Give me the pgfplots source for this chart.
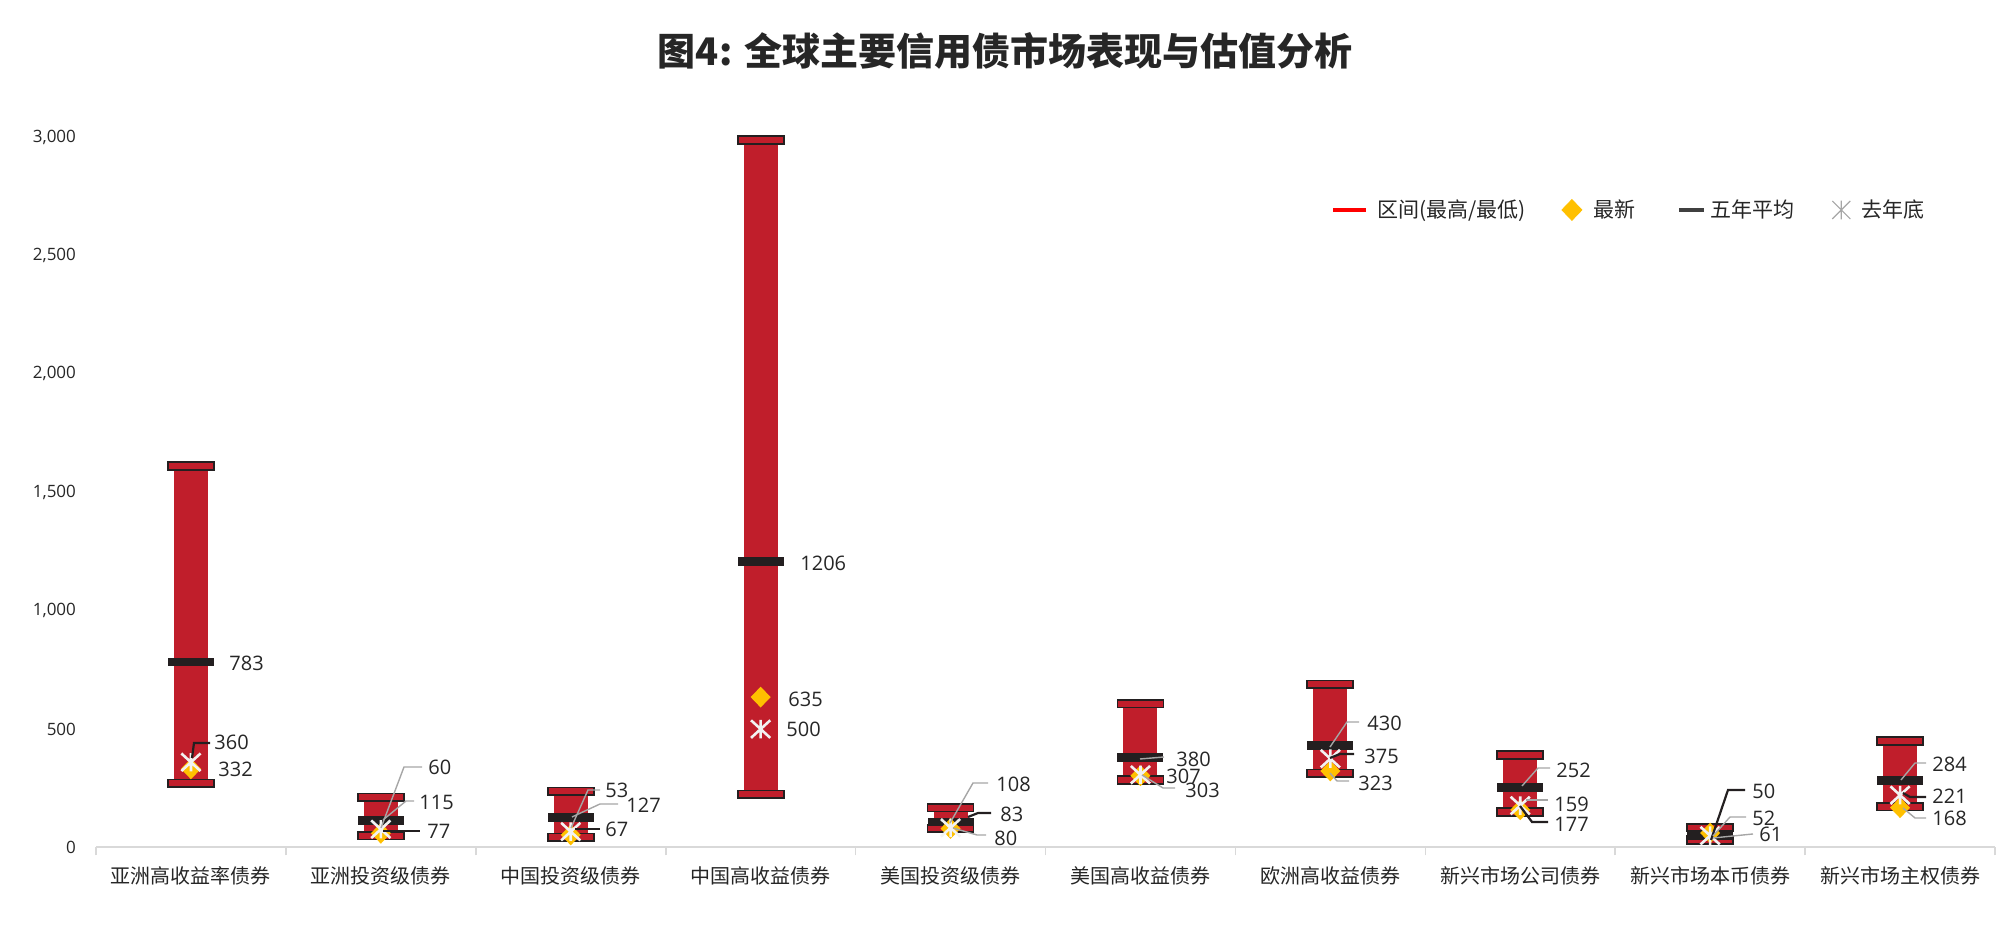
\documentclass[border=0pt]{standalone}
\usepackage{pgfplots}
\pgfplotsset{compat=1.18}
\usepackage{pgfplotstable}
\usepackage{fontspec}
\setmainfont{Open Sans}
\newfontfamily\cjk{Noto Sans CJK SC}
\definecolor{barred}{HTML}{C01E2B}
\definecolor{capline}{HTML}{231F20}
\definecolor{avgc}{HTML}{231F20}
\definecolor{gold}{HTML}{FFC000}
\definecolor{legred}{HTML}{FF0000}
\definecolor{avgleg}{HTML}{404040}
\definecolor{astgray}{HTML}{A6A6A6}
\definecolor{leadgray}{HTML}{A6A6A6}
\definecolor{axisgray}{HTML}{D9D9D9}
\definecolor{textc}{HTML}{262626}

\pgfdeclareplotmark{capbar}{%
  \pgfpathrectangle{\pgfqpoint{-11.5pt}{-1.9pt}}{\pgfqpoint{23pt}{3.8pt}}%
  \pgfusepathqfillstroke}
\pgfdeclareplotmark{avgbar}{%
  \pgfpathrectangle{\pgfqpoint{-11.5pt}{-2.2pt}}{\pgfqpoint{23pt}{4.4pt}}%
  \pgfusepathqfill}
\pgfdeclareplotmark{ldiamond}{%
  \pgfpathmoveto{\pgfqpoint{0pt}{5.2pt}}%
  \pgfpathlineto{\pgfqpoint{5pt}{0pt}}%
  \pgfpathlineto{\pgfqpoint{0pt}{-5.2pt}}%
  \pgfpathlineto{\pgfqpoint{-5pt}{0pt}}%
  \pgfpathclose\pgfusepathqfill}
\pgfdeclareplotmark{xast}{%
  \pgfpathmoveto{\pgfqpoint{-4.8pt}{-4.4pt}}\pgfpathlineto{\pgfqpoint{4.8pt}{4.4pt}}%
  \pgfpathmoveto{\pgfqpoint{-4.8pt}{4.4pt}}\pgfpathlineto{\pgfqpoint{4.8pt}{-4.4pt}}%
  \pgfpathmoveto{\pgfqpoint{0pt}{-4.6pt}}\pgfpathlineto{\pgfqpoint{0pt}{4.6pt}}%
  \pgfusepathqstroke}

\pgfplotstableread{
x low high avg latest last
0 271 1611 783 332 360
1 50 212 115 60 77
2 43 237 127 53 67
3 225 2987 1206 635 500
4 80 168 108 80 83
5 285 607 380 303 307
6 313 689 430 323 375
7 150 390 252 159 177
8 32 84 52 61 50
9 172 450 284 168 221
}\data

\begin{document}
\begin{tikzpicture}
\begin{axis}[
  at={(48pt,41.25pt)}, anchor=south west,
  scale only axis, width=949.5pt, height=355.25pt,
  xmin=-0.5, xmax=9.5, ymin=0, ymax=3000,
  clip=false,
  axis x line=bottom, axis y line=left, axis line style={-},
  x axis line style={draw=axisgray, line width=1pt},
  y axis line style={draw=none},
  xtick={0,...,9},
  xticklabels={亚洲高收益率债券,亚洲投资级债券,中国投资级债券,中国高收益债券,美国投资级债券,美国高收益债券,欧洲高收益债券,新兴市场公司债券,新兴市场本币债券,新兴市场主权债券},
  xticklabel style={font=\cjk\fontsize{10}{12}\selectfont, text=textc, yshift=-6pt},
  minor xtick={-0.5,0.5,...,9.5},
  major tick length=0pt, minor tick length=4pt, tick align=outside,
  major tick style={draw=none},
  minor x tick style={draw=axisgray, line width=0.8pt},
  ytick={0,500,...,3000},
  scaled y ticks=false,
  yticklabel style={font=\fontsize{8.5}{10}\selectfont, text=textc, xshift=-6.5pt},
  /pgf/number format/.cd, 1000 sep={,}, assume math mode=true,
  /pgfplots/.cd,
  legend style={at={(rel axis cs:0.6503,0.8973)}, anchor=west, draw=none, fill=none,
    inner sep=0pt, outer sep=0pt,
    nodes={inner sep=0pt, outer sep=0pt, font=\cjk\fontsize{10.5}{12}\selectfont, text=textc},
    column sep=0pt},
  legend columns=4,
]
% range bars
\addplot[forget plot, draw=none, mark=none,
  error bars/.cd, y dir=plus, y explicit, error mark=none,
  error bar style={draw=barred, line width=17pt}]
  table[x=x, y=low, y error expr=\thisrow{high}-\thisrow{low}] {\data};
% caps
\addplot[forget plot, only marks, mark=capbar, mark options={fill=barred, draw=capline, line width=0.9pt}]
  table[x=x, y=high] {\data};
\addplot[forget plot, only marks, mark=capbar, mark options={fill=barred, draw=capline, line width=0.9pt}]
  table[x=x, y=low] {\data};
% five-year average
\addplot[forget plot, only marks, mark=avgbar, mark options={fill=avgc}]
  table[x=x, y=avg] {\data};
% latest
\addplot[forget plot, only marks, mark=ldiamond, mark options={fill=gold}]
  table[x=x, y=latest] {\data};
% last year end
\addplot[forget plot, only marks, mark=xast, mark options={draw=white!95!black, line width=1.3pt}]
  table[x=x, y=last] {\data};

\addlegendimage{legend image code/.code={\draw[legred, line width=2.2pt] (0pt,0pt) -- (16.5pt,0pt); \path (22pt,0pt);}}
\addlegendentry{\makebox[92pt][l]{区间(最高/最低)}}
\addlegendimage{legend image code/.code={\fill[gold] (5pt,5.2pt) -- (10pt,0pt) -- (5pt,-5.2pt) -- (0pt,0pt) -- cycle; \path (15.5pt,0pt);}}
\addlegendentry{\makebox[42pt][l]{最新}}
\addlegendimage{legend image code/.code={\draw[avgleg, line width=2pt] (0pt,0pt) -- (12.5pt,0pt); \path (15.5pt,0pt);}}
\addlegendentry{\makebox[60.5pt][l]{五年平均}}
\addlegendimage{legend image code/.code={\draw[astgray, line width=0.6pt] (0.5pt,-4.5pt) -- (9.5pt,4.5pt) (0.5pt,4.5pt) -- (9.5pt,-4.5pt) (5pt,-4.7pt) -- (5pt,4.7pt); \path (15pt,0pt);}}
\addlegendentry{去年底}
\end{axis}

% title
\node[font=\cjk\bfseries\fontsize{19}{22}\selectfont, text=textc] at (502.5pt,439.5pt) {图4: 全球主要信用债市场表现与估值分析};

% data labels and leader lines (px coordinates of the 2010x930 frame)
\begin{scope}[x=0.5pt, y=-0.5pt, yshift=465pt,
  lab/.style={anchor=west, inner sep=0pt, font=\fontsize{10}{12}\selectfont, text=textc},
  lg/.style={draw=leadgray, line width=0.7pt},
  lb/.style={draw=avgc, line width=1.1pt}]
% cat 1
\node[lab] at (229,663) {783};
\node[lab] at (214,742) {360};
\node[lab] at (218,769) {332};
\draw[lb] (192,758) -- (194,743) -- (210,743);
% cat 2
\node[lab] at (428,767) {60};
\node[lab] at (419,802) {115};
\node[lab] at (427,831) {77};
\draw[lg] (381,828) -- (404,767) -- (422,767);
\draw[lg] (383,820) -- (406,801) -- (414,801);
\draw[lb] (383,831) -- (420,831);
% cat 3
\node[lab] at (605,790) {53};
\node[lab] at (626,805) {127};
\node[lab] at (605,829) {67};
\draw[lg] (571,828) -- (588,790) -- (600,790);
\draw[lg] (572,817) -- (600,804) -- (618,804);
\draw[lb] (575,829) -- (600,829);
% cat 4
\node[lab] at (800,563) {1206};
\node[lab] at (788,699) {635};
\node[lab] at (786,729) {500};
% cat 5
\node[lab] at (996,784) {108};
\node[lab] at (1000,814) {83};
\node[lab] at (994,838) {80};
\draw[lg] (950,823) -- (973,783) -- (988,783);
\draw[lb] (968,817) -- (978,813) -- (991,813);
\draw[lg] (953,828) -- (977,835) -- (986,835);
% cat 6
\node[lab] at (1176,759) {380};
\node[lab] at (1166,776) {307};
\node[lab] at (1185,790) {303};
\draw[lg] (1140,759) -- (1164,757);
\draw[lg] (1142,775) -- (1163,788) -- (1175,788);
% cat 7
\node[lab] at (1367,723) {430};
\node[lab] at (1364,756) {375};
\node[lab] at (1358,783) {323};
\draw[lg] (1330,747) -- (1347,722) -- (1359,722);
\draw[lb] (1330,758) -- (1340,754) -- (1354,754);
\draw[lg] (1330,773) -- (1337,781) -- (1349,781);
% cat 8
\node[lab] at (1556,770) {252};
\node[lab] at (1554,804) {159};
\node[lab] at (1554,824) {177};
\draw[lg] (1522,786) -- (1538,768) -- (1550,768);
\draw[lg] (1526,800) -- (1548,800);
\draw[lb] (1520,806) -- (1532,822) -- (1548,822);
% cat 9
\node[lab] at (1752,791) {50};
\node[lab] at (1752,818) {52};
\node[lab] at (1759,834) {61};
\draw[lb] (1711,840) -- (1728,790) -- (1745,790);
\draw[lg] (1713,836) -- (1730,817) -- (1746,817);
\draw[lg] (1713,838) -- (1753,834);
% cat 10
\node[lab] at (1932,764) {284};
\node[lab] at (1932,796) {221};
\node[lab] at (1932,818) {168};
\draw[lg] (1901,780) -- (1915,763) -- (1926,763);
\draw[lb] (1903,793) -- (1910,797) -- (1926,797);
\draw[lg] (1903,808) -- (1915,818) -- (1926,818);
\end{scope}

\pgfresetboundingbox
\useasboundingbox (0,0) rectangle (1005pt,465pt);
\end{tikzpicture}
\end{document}
